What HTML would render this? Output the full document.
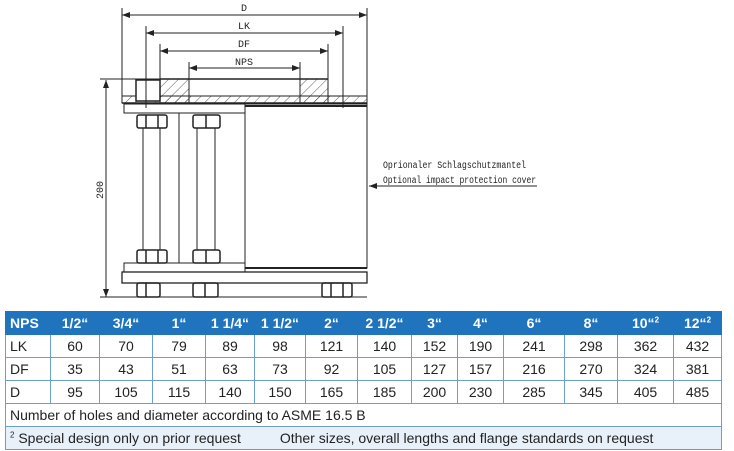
<!DOCTYPE html>
<html><head><meta charset="utf-8"><style>
body{margin:0;width:734px;height:451px;background:#fff;position:relative;overflow:hidden;font-family:"Liberation Sans",sans-serif}
svg{position:absolute;left:0;top:0}
table{position:absolute;left:5px;top:311px;width:716px;border-collapse:collapse;font-size:14px;color:#222;table-layout:fixed}
td{border:1px solid #6a9fd0;height:22px;padding:0;text-align:center}
tr.h td{background:#1f74bd;color:#fff;font-weight:bold;border-color:#1f74bd;height:22px}
td.l{text-align:left;padding-left:4px}
tr.f td{background:#e8f1fa}
sup{font-size:8px}
</style></head><body>
<svg width="734" height="310" viewBox="0 0 734 310" font-family="Liberation Mono,monospace" font-size="10">
<defs><pattern id="h" width="7" height="7" patternUnits="userSpaceOnUse" patternTransform="rotate(45)"><line x1="0" y1="0" x2="0" y2="7" stroke="#333" stroke-width="0.8"/></pattern>
<marker id="a" markerWidth="8" markerHeight="6" refX="8" refY="3" orient="auto-start-reverse"><path d="M0,0L8,3L0,6z" fill="#222"/></marker></defs>
<g stroke="#222" stroke-width="1" fill="none">
<line x1="122" y1="8" x2="122" y2="96"/><line x1="367" y1="8" x2="367" y2="96"/>
<line x1="146" y1="26" x2="146" y2="108"/><line x1="343" y1="26" x2="343" y2="108"/>
<line x1="160" y1="44" x2="160" y2="79"/><line x1="328" y1="44" x2="328" y2="79"/>
<line x1="189" y1="62" x2="189" y2="79"/><line x1="300" y1="62" x2="300" y2="79"/>
<line x1="122" y1="15" x2="367" y2="15" marker-start="url(#a)" marker-end="url(#a)"/>
<line x1="146" y1="33" x2="343" y2="33" marker-start="url(#a)" marker-end="url(#a)"/>
<line x1="160" y1="51" x2="328" y2="51" marker-start="url(#a)" marker-end="url(#a)"/>
<line x1="189" y1="68" x2="300" y2="68" marker-start="url(#a)" marker-end="url(#a)"/>
<line x1="100" y1="79" x2="160" y2="79"/>
<line x1="106" y1="80" x2="106" y2="297" marker-start="url(#a)" marker-end="url(#a)"/>
<line x1="100" y1="297" x2="367" y2="297"/>
<rect x="160" y="79" width="29" height="24" fill="url(#h)"/>
<rect x="300" y="79" width="28" height="24" fill="url(#h)"/>
<line x1="160" y1="79" x2="328" y2="79" stroke-width="1.5"/>
<rect x="122" y="96" width="245" height="7" fill="url(#h)"/>
<line x1="122" y1="103" x2="367" y2="103" stroke-width="1.5"/>
<rect x="136" y="80" width="24" height="21" fill="#fff" stroke-width="1.5"/>
<line x1="146" y1="80" x2="146" y2="101"/>
<rect x="124" y="104" width="121" height="9"/>
<rect x="245" y="104" width="122" height="164"/>
<line x1="245" y1="106" x2="367" y2="106" stroke-width="2"/>
<rect x="124" y="263" width="121" height="9"/>
<line x1="245" y1="268" x2="367" y2="268" stroke-width="2"/>
<rect x="122" y="272" width="245" height="11" stroke-width="1.3"/>
<line x1="143" y1="128" x2="143" y2="250"/><line x1="160" y1="128" x2="160" y2="250"/>
<line x1="179" y1="113" x2="179" y2="263"/>
<line x1="197" y1="128" x2="197" y2="250"/><line x1="215" y1="128" x2="215" y2="250"/>
<g stroke-width="1.5">
<rect x="137" y="115" width="30" height="13" rx="2"/><line x1="146" y1="115" x2="146" y2="128"/><line x1="158" y1="115" x2="158" y2="128"/>
<rect x="193" y="115" width="27" height="13" rx="2"/><line x1="206" y1="115" x2="206" y2="128"/>
<rect x="137" y="250" width="30" height="13" rx="2"/><line x1="146" y1="250" x2="146" y2="263"/><line x1="158" y1="250" x2="158" y2="263"/>
<rect x="193" y="250" width="27" height="13" rx="2"/><line x1="206" y1="250" x2="206" y2="263"/>
<rect x="137" y="283" width="23" height="14" rx="2"/><line x1="146" y1="283" x2="146" y2="297"/>
<rect x="193" y="283" width="25" height="14" rx="2"/><line x1="205" y1="283" x2="205" y2="297"/>
<rect x="322" y="283" width="30" height="14" rx="2"/><line x1="331" y1="283" x2="331" y2="297"/><line x1="343" y1="283" x2="343" y2="297"/>
</g>
<line x1="537" y1="186" x2="369" y2="186" marker-end="url(#a)"/>
</g>
<g fill="#222" font-size="10">
<text x="244" y="11" text-anchor="middle">D</text>
<text x="244" y="29" text-anchor="middle">LK</text>
<text x="244" y="47" text-anchor="middle">DF</text>
<text x="244" y="65" text-anchor="middle">NPS</text>
<text transform="translate(103,190) rotate(-90)" text-anchor="middle">200</text>
<text x="383" y="168" textLength="143" lengthAdjust="spacingAndGlyphs">Oprionaler Schlagschutzmantel</text>
<text x="383" y="183" textLength="153" lengthAdjust="spacingAndGlyphs">Optional impact protection cover</text>
</g>
</svg>
<table>
<colgroup><col style="width:45px"><col style="width:49px"><col style="width:53px"><col style="width:53px"><col style="width:49px"><col style="width:51px"><col style="width:52px"><col style="width:54px"><col style="width:46px"><col style="width:46px"><col style="width:61px"><col style="width:53px"><col style="width:56px"><col style="width:48px"></colgroup>
<tr class="h"><td class="l">NPS</td><td>1/2“</td><td>3/4“</td><td>1“</td><td>1 1/4“</td><td>1 1/2“</td><td>2“</td><td>2 1/2“</td><td>3“</td><td>4“</td><td>6“</td><td>8“</td><td>10“<sup>2</sup></td><td>12“<sup>2</sup></td></tr>
<tr><td class="l">LK</td><td>60</td><td>70</td><td>79</td><td>89</td><td>98</td><td>121</td><td>140</td><td>152</td><td>190</td><td>241</td><td>298</td><td>362</td><td>432</td></tr>
<tr><td class="l">DF</td><td>35</td><td>43</td><td>51</td><td>63</td><td>73</td><td>92</td><td>105</td><td>127</td><td>157</td><td>216</td><td>270</td><td>324</td><td>381</td></tr>
<tr><td class="l">D</td><td>95</td><td>105</td><td>115</td><td>140</td><td>150</td><td>165</td><td>185</td><td>200</td><td>230</td><td>285</td><td>345</td><td>405</td><td>485</td></tr>
<tr><td class="l" colspan="14">Number of holes and diameter according to ASME 16.5 B</td></tr>
<tr class="f"><td class="l" colspan="14"><sup>2</sup> Special design only on prior request &nbsp;&nbsp;&nbsp;&nbsp;&nbsp;&nbsp;&nbsp;&nbsp; Other sizes, overall lengths and flange standards on request</td></tr>
</table>
</body></html>
